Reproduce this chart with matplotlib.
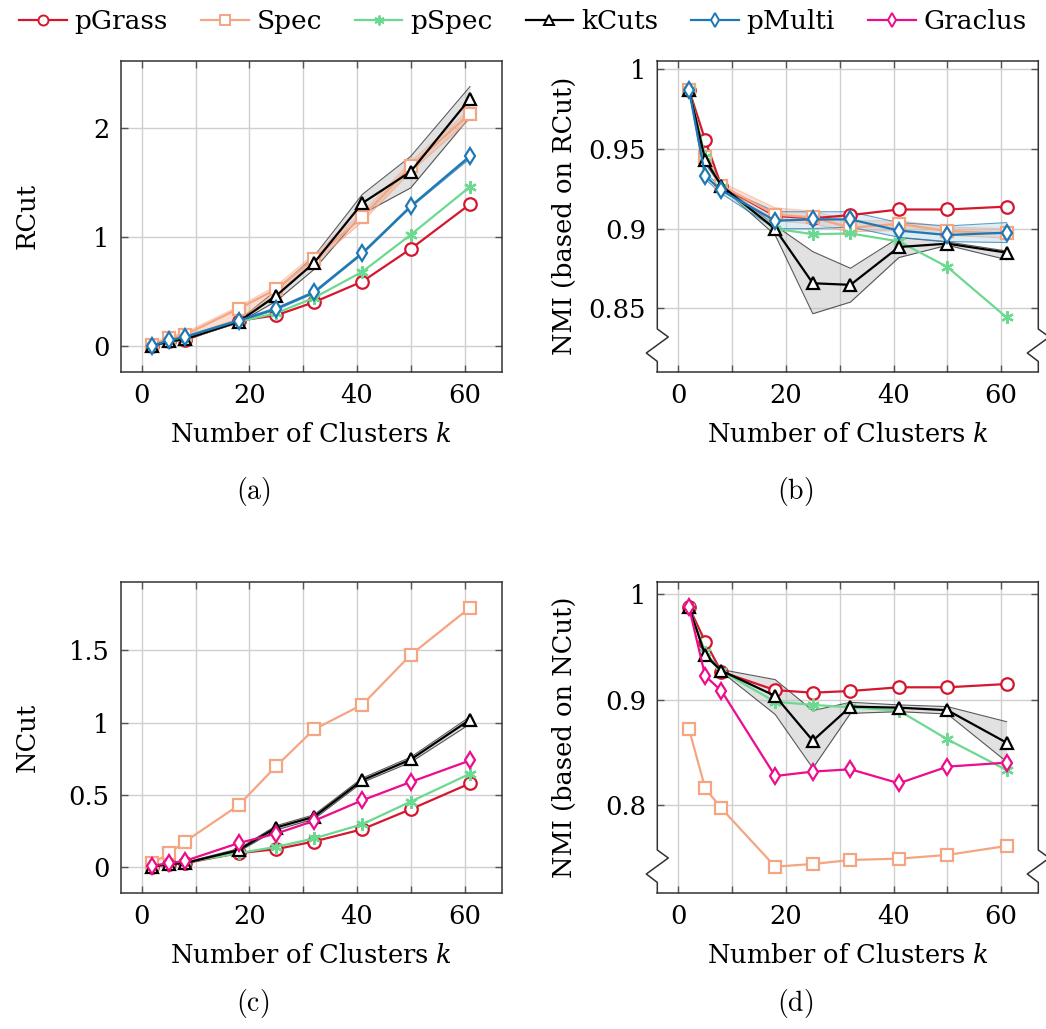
import matplotlib
matplotlib.use("Agg")
import matplotlib.pyplot as plt
from matplotlib.lines import Line2D

plt.rcParams["font.family"] = ["DejaVu Serif"]

# number of clusters
k = [2, 5, 8, 18, 25, 32, 41, 50, 61]

# (a) RCut
rcut_pgrass = [0.0, 0.04, 0.05, 0.23, 0.28, 0.40, 0.59, 0.89, 1.30]
rcut_spec = [0.01, 0.07, 0.10, 0.34, 0.52, 0.80, 1.18, 1.65, 2.13]
rcut_spec_lo = [0.0, 0.05, 0.08, 0.25, 0.47, 0.76, 1.14, 1.60, 2.08]
rcut_spec_hi = [0.02, 0.08, 0.12, 0.36, 0.55, 0.84, 1.22, 1.69, 2.17]
rcut_pspec = [0.0, 0.04, 0.06, 0.22, 0.30, 0.44, 0.68, 1.02, 1.46]
rcut_kcuts = [0.0, 0.04, 0.06, 0.22, 0.46, 0.76, 1.31, 1.60, 2.27]
rcut_kcuts_lo = [0.0, 0.035, 0.055, 0.21, 0.41, 0.70, 1.21, 1.45, 2.10]
rcut_kcuts_hi = [0.0, 0.045, 0.065, 0.23, 0.51, 0.82, 1.39, 1.74, 2.38]
rcut_pmulti = [0.0, 0.05, 0.08, 0.23, 0.34, 0.49, 0.85, 1.28, 1.74]
rcut_pmulti_lo = [0.0, 0.045, 0.07, 0.22, 0.33, 0.48, 0.84, 1.27, 1.72]
rcut_pmulti_hi = [0.0, 0.055, 0.09, 0.24, 0.35, 0.50, 0.86, 1.29, 1.75]

# (b) NMI based on RCut
nmir_pgrass = [0.987, 0.9554, 0.9267, 0.908, 0.9065, 0.9085, 0.912, 0.912, 0.9138]
nmir_spec = [0.987, 0.9446, 0.927, 0.9088, 0.907, 0.9006, 0.903, 0.8985, 0.897]
nmir_spec_lo = [0.987, 0.943, 0.925, 0.905, 0.903, 0.898, 0.899, 0.896, 0.894]
nmir_spec_hi = [0.988, 0.947, 0.929, 0.913, 0.911, 0.905, 0.905, 0.901, 0.900]
nmir_pspec = [0.987, 0.945, 0.926, 0.900, 0.8965, 0.897, 0.892, 0.876, 0.8444]
nmir_kcuts = [0.987, 0.943, 0.927, 0.8998, 0.8658, 0.8648, 0.8885, 0.8906, 0.885]
nmir_kcuts_lo = [0.987, 0.941, 0.926, 0.896, 0.8467, 0.854, 0.8819, 0.8896, 0.8806]
nmir_kcuts_hi = [0.988, 0.945, 0.928, 0.902, 0.8856, 0.8752, 0.8944, 0.8917, 0.886]
nmir_pmulti = [0.987, 0.933, 0.924, 0.905, 0.9058, 0.9058, 0.8988, 0.896, 0.8975]
nmir_pmulti_lo = [0.986, 0.931, 0.922, 0.900, 0.900, 0.901, 0.8946, 0.8919, 0.8913]
nmir_pmulti_hi = [0.988, 0.935, 0.926, 0.9106, 0.9106, 0.9106, 0.9038, 0.9017, 0.9038]

# (c) NCut
ncut_pgrass = [0.0, 0.018, 0.025, 0.094, 0.122, 0.175, 0.26, 0.399, 0.578]
ncut_spec = [0.023, 0.092, 0.173, 0.426, 0.698, 0.952, 1.124, 1.47, 1.797]
ncut_pspec = [0.0, 0.02, 0.03, 0.094, 0.138, 0.196, 0.295, 0.452, 0.645]
ncut_kcuts = [0.0, 0.02, 0.025, 0.115, 0.272, 0.346, 0.60, 0.744, 1.02]
ncut_kcuts_lo = [0.0, 0.015, 0.02, 0.105, 0.255, 0.33, 0.585, 0.725, 0.99]
ncut_kcuts_hi = [0.0, 0.025, 0.03, 0.125, 0.285, 0.36, 0.615, 0.76, 1.04]
ncut_graclus = [0.007, 0.025, 0.04, 0.164, 0.23, 0.318, 0.461, 0.588, 0.737]

# (d) NMI based on NCut
nmin_pgrass = [0.9875, 0.955, 0.9265, 0.909, 0.9066, 0.9082, 0.9117, 0.9117, 0.9148]
nmin_spec = [0.8719, 0.816, 0.797, 0.7417, 0.7442, 0.748, 0.7493, 0.7528, 0.7613]
nmin_pspec = [0.9875, 0.945, 0.927, 0.898, 0.895, 0.8927, 0.8896, 0.8624, 0.8333]
nmin_kcuts = [0.9875, 0.9423, 0.9275, 0.9035, 0.8611, 0.8934, 0.8924, 0.890, 0.8592]
nmin_kcuts_lo = [0.9875, 0.941, 0.9265, 0.886, 0.835, 0.887, 0.8886, 0.8864, 0.8412]
nmin_kcuts_hi = [0.9885, 0.944, 0.9285, 0.919, 0.8896, 0.8975, 0.895, 0.8934, 0.8791]
nmin_graclus = [0.9875, 0.9224, 0.9085, 0.8276, 0.8318, 0.834, 0.8207, 0.8365, 0.8403]

methods = ["pGrass", "Spec", "pSpec", "kCuts", "pMulti", "Graclus"]
colors = {"pGrass": "#d4172f", "Spec": "#f4a582", "pSpec": "#6bd98f",
          "kCuts": "#000000", "pMulti": "#1f78b4", "Graclus": "#ec0c8c"}
asterisk = (6, 2, 0)
marks = {"pGrass": ("o", 9), "Spec": ("s", 9), "pSpec": (asterisk, 9),
         "kCuts": ("^", 8.5), "pMulti": ("d", 8.5), "Graclus": ("d", 8.5)}

W, H = 1046, 1029
fig = plt.figure(figsize=(W / 100, H / 100), dpi=100)

FS = 18.5


def make_axes(left, top, ylim, yticks, ylabels, ylabel, brk=False):
    ax = fig.add_axes([left / W, 1 - (top + 311) / H, 381 / W, 311 / H])
    ax.set_xlim(-3.9, 66.9)
    ax.set_ylim(*ylim)
    ax.set_xticks([0, 20, 40, 60])
    ax.set_xticks([10, 30, 50], minor=True)
    ax.set_yticks(yticks)
    ax.set_yticklabels(ylabels)
    ax.grid(True, which="both", color="#cfcfcf", lw=1.0)
    ax.set_axisbelow(True)
    ax.tick_params(which="both", direction="in", top=True, right=True,
                   length=5, width=1.0, color="#555555", labelsize=FS, pad=8)
    for s in ax.spines.values():
        s.set_color("#333333")
        s.set_linewidth(1.1)
    ax.set_xlabel("Number of Clusters $k$", fontsize=FS, labelpad=10,
                  math_fontfamily="dejavuserif")
    ax.set_ylabel(ylabel, fontsize=FS, va="center")
    ax.yaxis.set_label_coords(-0.245, 0.5)
    if brk:
        # broken y axis: zigzag drawn into the side spines
        ax.spines["left"].set_visible(False)
        ax.spines["right"].set_visible(False)
        dx = 11 / 381
        for x0 in (0, 1):
            ax.add_line(Line2D(
                [x0, x0, x0 + dx, x0 - dx, x0, x0],
                [1, 0.1373, 0.1116, 0.0601, 0.0331, 0],
                transform=ax.transAxes, color="#333333", lw=1.1,
                clip_on=False, zorder=5))
    return ax


def band(ax, lo, hi, color, fill, alpha, edge_alpha):
    ax.fill_between(k, lo, hi, color=fill, alpha=alpha, lw=0, zorder=2)
    ax.plot(k, lo, color=color, lw=0.8, alpha=edge_alpha, zorder=2)
    ax.plot(k, hi, color=color, lw=0.8, alpha=edge_alpha, zorder=2)


def series(ax, name, y):
    m, ms = marks[name]
    c = colors[name]
    ax.plot(k, y, color=c, lw=1.6, marker=m, ms=ms, mew=1.6,
            mfc="white" if name != "pSpec" else c, mec=c, zorder=3)


# (a)
ax = make_axes(120.7, 60.7, (-0.238, 2.618), [0, 1, 2], ["0", "1", "2"], "RCut")
band(ax, rcut_kcuts_lo, rcut_kcuts_hi, "#333333", "#bdbdbd", 0.45, 0.8)
band(ax, rcut_spec_lo, rcut_spec_hi, colors["Spec"], colors["Spec"], 0.35, 0.6)
band(ax, rcut_pmulti_lo, rcut_pmulti_hi, colors["pMulti"], colors["pMulti"], 0.3, 0.6)
series(ax, "pGrass", rcut_pgrass)
series(ax, "Spec", rcut_spec)
series(ax, "pSpec", rcut_pspec)
series(ax, "kCuts", rcut_kcuts)
series(ax, "pMulti", rcut_pmulti)

# (b)
ax = make_axes(657.3, 60.7, (0.8104, 1.0052), [0.85, 0.9, 0.95, 1.0],
               ["0.85", "0.9", "0.95", "1"], "NMI (based on RCut)", brk=True)
band(ax, nmir_kcuts_lo, nmir_kcuts_hi, "#333333", "#bdbdbd", 0.45, 0.8)
band(ax, nmir_spec_lo, nmir_spec_hi, colors["Spec"], colors["Spec"], 0.35, 0.6)
band(ax, nmir_pmulti_lo, nmir_pmulti_hi, colors["pMulti"], "#a6cee3", 0.35, 0.7)
series(ax, "pGrass", nmir_pgrass)
series(ax, "Spec", nmir_spec)
series(ax, "pSpec", nmir_pspec)
series(ax, "kCuts", nmir_kcuts)
series(ax, "pMulti", nmir_pmulti)

# (c)
ax = make_axes(120.7, 581.7, (-0.18, 1.977), [0, 0.5, 1, 1.5],
               ["0", "0.5", "1", "1.5"], "NCut")
band(ax, ncut_kcuts_lo, ncut_kcuts_hi, "#333333", "#bdbdbd", 0.45, 0.8)
series(ax, "pGrass", ncut_pgrass)
series(ax, "Spec", ncut_spec)
series(ax, "pSpec", ncut_pspec)
series(ax, "kCuts", ncut_kcuts)
series(ax, "Graclus", ncut_graclus)

# (d)
ax = make_axes(657.3, 581.7, (0.717, 1.0118), [0.8, 0.9, 1.0],
               ["0.8", "0.9", "1"], "NMI (based on NCut)", brk=True)
band(ax, nmin_kcuts_lo, nmin_kcuts_hi, "#333333", "#bdbdbd", 0.45, 0.8)
series(ax, "pGrass", nmin_pgrass)
series(ax, "Spec", nmin_spec)
series(ax, "pSpec", nmin_pspec)
series(ax, "kCuts", nmin_kcuts)
series(ax, "Graclus", nmin_graclus)

# sub-figure captions
for x, y, lab in [(253, 492, "a"), (795, 492, "b"), (253, 1003, "c"), (795, 1003, "d")]:
    fig.text(x / W, 1 - y / H, r"$\mathrm{(%s)}$" % lab, ha="center", va="center",
             fontsize=20, math_fontfamily="cm")

# shared legend across the top
handles = []
for name in methods:
    m, ms = marks[name]
    c = colors[name]
    handles.append(Line2D([], [], color=c, lw=1.6, marker=m, ms=ms * 0.8, mew=1.4,
                          mfc="white" if name != "pSpec" else c, mec=c))
fig.legend(handles, methods, loc="upper center", bbox_to_anchor=(0.5, 1.014),
           ncol=6, frameon=False, fontsize=19, handlelength=1.8,
           handletextpad=0.3, columnspacing=1.25)

fig.savefig("out.png", dpi=100)
